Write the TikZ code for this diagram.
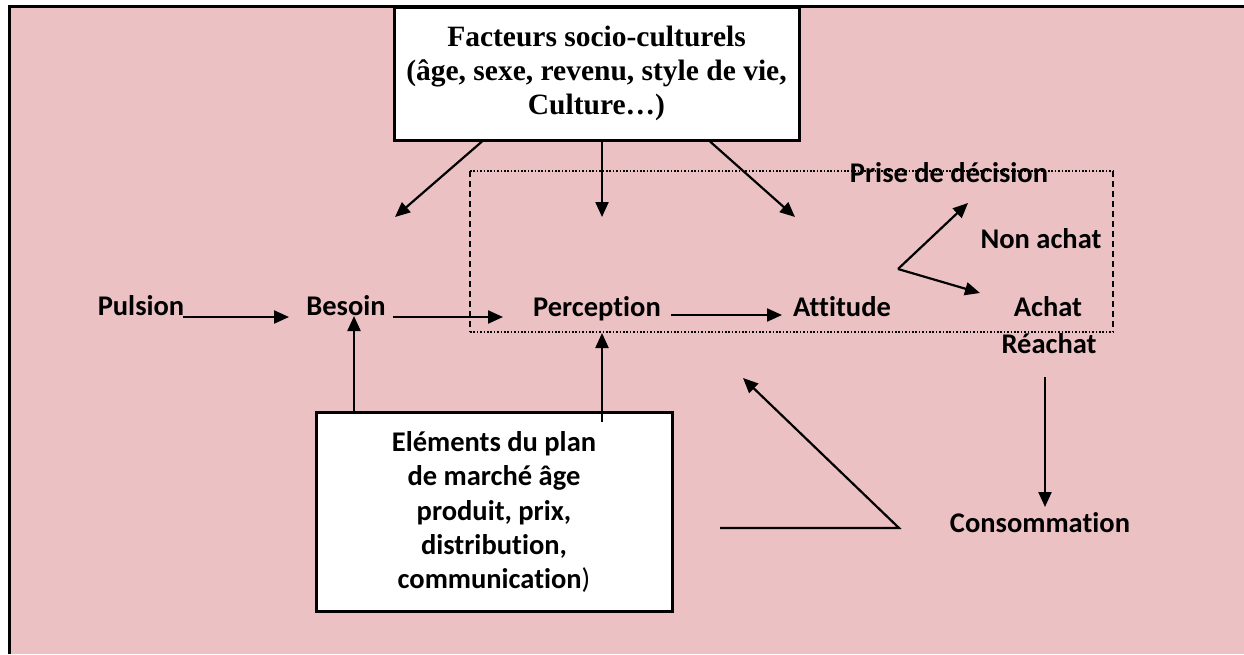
\documentclass[tikz,border=0pt]{standalone}
\usepackage{fontspec}
\setmainfont{Liberation Serif}
\newfontfamily\calib[Ligatures={NoCommon,NoRare,NoContextual}]{Carlito}
\usetikzlibrary{arrows.meta}

\definecolor{paper}{RGB}{236,193,196}

\tikzset{
  lbl/.style={font=\calib\bfseries\fontsize{28.5}{34}\selectfont, inner sep=0pt, anchor=base},
  box/.style={draw=black, line width=3pt, fill=white, align=center, inner sep=0pt},
  arr/.style={line width=2.2pt, -{Triangle[length=15pt,width=13pt]}},
  dotline/.style={line width=1.6pt, dash pattern=on 1.6pt off 1.8pt},
  dashline/.style={line width=1.6pt, dash pattern=on 6pt off 4pt}
}

\begin{document}
\begin{tikzpicture}[x=1pt, y=-1pt]
  \useasboundingbox (0,0) rectangle (1244,654);
  \fill[white] (0,0) rectangle (1244,654);
  \fill[paper] (9,6) rectangle (1244,654);
  \draw[line width=3pt] (9.5,654) -- (9.5,6.5) -- (1244,6.5);

  % decision frame
  \draw[dotline] (470,171) -- (1113,171);
  \draw[dotline] (470,332) -- (1113,332);
  \draw[dashline] (470,171) -- (470,332);
  \draw[dashline] (1113,171) -- (1113,332);

  % boxes
  \node[box, minimum width=405pt, minimum height=133pt,
        font=\bfseries\fontsize{29.5}{34}\selectfont] (socio) at (596.5,73.5)
    {Facteurs socio-culturels\\(âge, sexe, revenu, style de vie,\\Culture…)};
  \node[box, minimum width=356pt, minimum height=199pt,
        font=\calib\bfseries\fontsize{28.5}{34.3}\selectfont] (plan) at (494,512)
    {Eléments du plan\\de marché âge\\produit, prix,\\distribution,\\communication{\mdseries)}};

  % labels
  \node[lbl] (pulsion) at (141,315) {Pulsion};
  \node[lbl] (besoin) at (346,315) {Besoin};
  \node[lbl] (perception) at (597,316) {Perception};
  \node[lbl] (attitude) at (842,316) {Attitude};
  \node[lbl] (decision) at (949,182) {Prise de décision};
  \node[lbl] (nonachat) at (1041,248) {Non achat};
  \node[lbl] (achat) at (1048,316) {Achat};
  \node[lbl] (reachat) at (1049,353) {Réachat};
  \node[lbl] (conso) at (1040,532) {Consommation};

  % arrow tips and free points
  \coordinate (tipB) at (395,217);
  \coordinate (tipP) at (602,217);
  \coordinate (tipA) at (795,217);
  \coordinate (inB) at (289,317);
  \coordinate (inP) at (503,317);
  \coordinate (inA) at (782,315);
  \coordinate (upB) at (354,316);
  \coordinate (upP) at (602,333);
  \coordinate (fork) at (898,269);
  \coordinate (toNon) at (968,203);
  \coordinate (toAchat) at (980,293);
  \coordinate (fbA) at (720,528);
  \coordinate (fbB) at (899,528);
  \coordinate (fbTip) at (743,378);

  % influences of the socio-cultural factors
  \draw[arr] ([xshift=-114.5pt]socio.south) -- (tipB);
  \draw[arr] ([xshift=5.5pt]socio.south) -- (tipP);
  \draw[arr] ([xshift=113.5pt]socio.south) -- (tipA);

  % main chain
  \draw[arr] ([xshift=42pt,yshift=-2pt]pulsion.base) -- (inB);
  \draw[arr] ([xshift=47pt,yshift=-2pt]besoin.base) -- (inP);
  \draw[arr] ([xshift=74pt,yshift=1pt]perception.base) -- (inA);

  % marketing plan inputs
  \draw[arr] ([xshift=-140pt]plan.north) -- (upB);
  \draw[arr] ([xshift=108pt,yshift=-11pt]plan.north) -- (upP);

  % decision fork
  \draw[arr] (fork) -- (toNon);
  \draw[arr] (fork) -- (toAchat);

  % consumption and feedback
  \draw[arr] ([xshift=-4pt,yshift=-24pt]reachat.base) -- ([xshift=5pt,yshift=25pt]conso.base);
  \draw[arr] (fbA) -- (fbB) -- (fbTip);
\end{tikzpicture}
\end{document}
